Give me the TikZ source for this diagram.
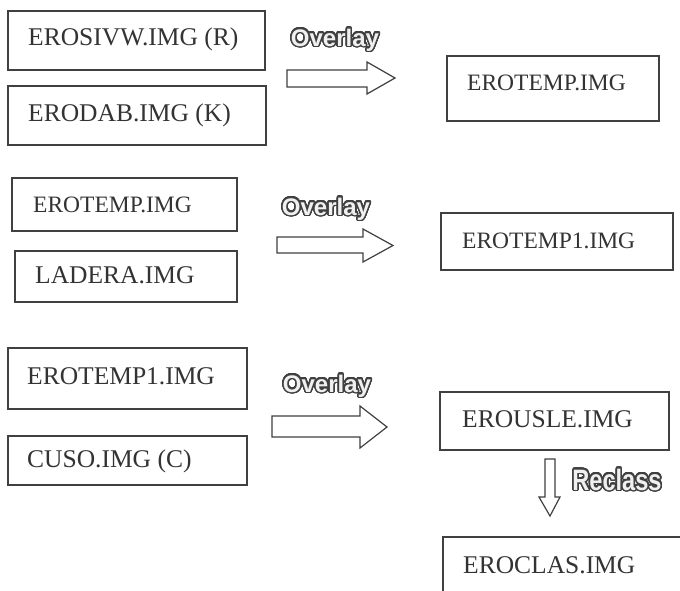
\documentclass[tikz,border=0pt]{standalone}
\usepackage{fontspec}
\setmainfont{Liberation Serif}
\newfontfamily\ovfont{Liberation Sans}
\newfontfamily\rcfont[FakeStretch=0.8]{Liberation Sans}
\usepackage{contour}
\contourlength{1.5pt}
\contournumber{32}
\definecolor{ink}{HTML}{333333}
\definecolor{lineink}{HTML}{404040}
\tikzset{
  boxline/.style={draw=lineink, line width=1.5pt},
  lbl/.style={anchor=base west, inner sep=0pt, text=ink, font=\fontsize{25.5}{30}\selectfont},
  lblsmall/.style={lbl, font=\fontsize{23.5}{28}\selectfont},
  blockarrow/.style={draw=lineink, line width=1.2pt, fill=white, line join=miter},
  ovl/.style={anchor=base, inner sep=0pt, text=white!94!black, font=\ovfont\bfseries\fontsize{24}{28}\selectfont},
  rcl/.style={anchor=base, inner sep=0pt, text=white!94!black, font=\rcfont\bfseries\fontsize{29.5}{34}\selectfont},
}
\begin{document}
\begin{tikzpicture}[x=1pt,y=-1pt]
\useasboundingbox (0,0) rectangle (680,590);
\clip (0,0) rectangle (680,590);
\fill[white] (0,0) rectangle (680,590);

% row 1
\draw[boxline] (8,11) rectangle (265,70);
\node[lbl] (t1) at (28,45) {EROSIVW.IMG (R)};
\draw[boxline] (8,86) rectangle (266,145);
\node[lbl] (t2) at (28,121) {ERODAB.IMG (K)};
\draw[boxline] (447,56) rectangle (659,121);
\node[lblsmall] (t3) at (467,90) {EROTEMP.IMG};
\node[ovl] (o1) at (335,46) {\contour{black!75}{Overlay}};
\draw[blockarrow] (287,70) -- (367,70) -- (367,62) -- (395,78) -- (367,94) -- (367,87) -- (287,87) -- cycle;

% row 2
\draw[boxline] (12,178) rectangle (237,231);
\node[lblsmall] (t4) at (33,212) {EROTEMP.IMG};
\draw[boxline] (15,251) rectangle (237,302);
\node[lbl] (t5) at (35,283) {LADERA.IMG};
\draw[boxline] (441,213) rectangle (673,270);
\node[lblsmall] (t6) at (462,248) {EROTEMP1.IMG};
\node[ovl] (o2) at (326,215) {\contour{black!75}{Overlay}};
\draw[blockarrow] (277,237) -- (363,237) -- (363,229) -- (393,245.5) -- (363,262) -- (363,253) -- (277,253) -- cycle;

% row 3
\draw[boxline] (8,348) rectangle (247,409);
\node[lbl] (t7) at (27,384) {EROTEMP1.IMG};
\draw[boxline] (8,436) rectangle (247,485);
\node[lbl] (t8) at (27,467) {CUSO.IMG (C)};
\draw[boxline] (440,392) rectangle (669,450);
\node[lbl] (t9) at (462,427) {EROUSLE.IMG};
\node[ovl] (o3) at (327,392) {\contour{black!75}{Overlay}};
\draw[blockarrow] (272,416) -- (360,416) -- (360,406) -- (387,427) -- (360,448) -- (360,437) -- (272,437) -- cycle;

% reclass
\draw[blockarrow] (545,459) -- (555,459) -- (555,497) -- (560,497) -- (550,516) -- (539,497) -- (545,497) -- cycle;
\node[rcl] (r1) at (617,490) {\contour{black!75}{Reclass}};
\draw[boxline] (443,537) rectangle (700,610);
\node[lbl] (t10) at (463,573) {EROCLAS.IMG};
\end{tikzpicture}
\end{document}
